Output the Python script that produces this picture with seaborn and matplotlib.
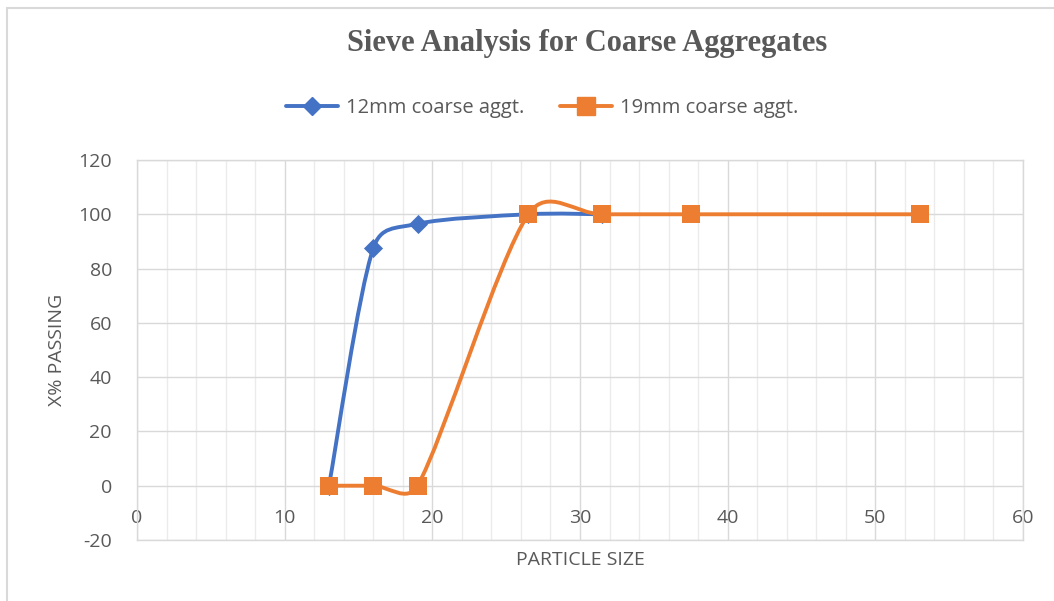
import numpy as np
import matplotlib
matplotlib.use("Agg")
import matplotlib.pyplot as plt
from matplotlib.path import Path
from matplotlib.patches import PathPatch, Rectangle
from matplotlib.lines import Line2D
import seaborn as sns

# sieve size (mm) vs percentage passing
size_12 = [13, 16, 19, 26.5, 31.5]
pass_12 = [0, 87.5, 96.5, 100, 100]
size_19 = [13, 16, 19, 26.5, 31.5, 37.5, 53]
pass_19 = [0, 0, 0, 100, 100, 100, 100]

series_names = ['12mm coarse aggt.', '19mm coarse aggt.']
series_colors = ['#4472C4', '#ED7D31']
x_ticks = [0, 10, 20, 30, 40, 50, 60]
y_ticks = [-20, 0, 20, 40, 60, 80, 100, 120]

text_col = '#595959'
grid_col = '#D9D9D9'

sns.set_theme(style='white')
plt.rcParams['font.family'] = ['Open Sans', 'DejaVu Sans']
plt.rcParams['axes.unicode_minus'] = False


def smooth_path(ax, xs, ys, k=0.47):
    # excel-like smoothed line: catmull-rom bezier in screen space,
    # handles clamped so short segments don't overshoot too much
    pts = ax.transData.transform(np.column_stack([xs, ys]))
    n = len(pts)
    verts = [pts[0]]
    codes = [Path.MOVETO]
    for i in range(n - 1):
        p0 = pts[max(i - 1, 0)]
        p1 = pts[i]
        p2 = pts[i + 1]
        p3 = pts[min(i + 2, n - 1)]
        seg = np.linalg.norm(p2 - p1)
        h1 = (p2 - p0) / 6
        h2 = (p3 - p1) / 6
        if np.linalg.norm(h1) > k * seg:
            h1 = h1 / np.linalg.norm(h1) * k * seg
        if np.linalg.norm(h2) > k * seg:
            h2 = h2 / np.linalg.norm(h2) * k * seg
        verts += [p1 + h1, p2 - h2, p2]
        codes += [Path.CURVE4] * 3
    verts = ax.transData.inverted().transform(np.array(verts))
    return Path(verts, codes)


fig = plt.figure(figsize=(10.54, 6.01), dpi=100)
ax = fig.add_axes([137 / 1054, 1 - 540 / 601, 886 / 1054, 380 / 601])
ax.set_xlim(0, 60)
ax.set_ylim(-20, 120)
ax.set_xticks(x_ticks)
ax.set_yticks(y_ticks)
ax.set_xticks(np.arange(0, 61, 2), minor=True)
ax.grid(which='major', color=grid_col, lw=1.0)
ax.grid(which='minor', axis='x', color='#EBEBEB', lw=1.0)
ax.set_axisbelow(True)
for s in ax.spines.values():
    s.set_color(grid_col)
    s.set_linewidth(1.0)
ax.tick_params(axis='both', which='both', length=0, labelsize=14, labelcolor=text_col)
ax.tick_params(axis='x', pad=-22)
ax.tick_params(axis='y', pad=18)

lw = 2.8
# 12mm series
ax.add_patch(PathPatch(smooth_path(ax, size_12, pass_12), fill=False,
                       edgecolor=series_colors[0], lw=lw, zorder=3, capstyle='round'))
sns.scatterplot(x=size_12, y=pass_12, ax=ax, marker='D', s=95, color=series_colors[0],
                linewidth=0, zorder=4, legend=False)
# 19mm series
ax.add_patch(PathPatch(smooth_path(ax, size_19, pass_19), fill=False,
                       edgecolor=series_colors[1], lw=lw, zorder=5, capstyle='round'))
sns.scatterplot(x=size_19, y=pass_19, ax=ax, marker='s', s=155, color=series_colors[1],
                linewidth=0, zorder=6, legend=False)

ax.set_xlabel('PARTICLE SIZE', fontsize=14, color=text_col)
ax.xaxis.label.set_va('center')
ax.xaxis.set_label_coords(0.5, -20 / 380)
ax.set_ylabel('X% PASSING', fontsize=14, color=text_col)
ax.yaxis.label.set_va('center')
ax.yaxis.set_label_coords(-80 / 886, 0.5)

fig.text(587 / 1054, 1 - 44 / 601, 'Sieve Analysis for Coarse Aggregates',
         ha='center', va='center', fontsize=22, fontweight='bold',
         family='Liberation Serif', color=text_col)

handles = [Line2D([], [], color=series_colors[0], lw=lw, marker='D', markersize=9.5),
           Line2D([], [], color=series_colors[1], lw=lw, marker='s', markersize=12.3)]
fig.legend(handles, series_names, loc='center', bbox_to_anchor=(542 / 1054, 1 - 108 / 601),
           ncol=2, frameon=False, fontsize=14.5, labelcolor=text_col, handlelength=2.6,
           handletextpad=0.35, columnspacing=1.8, numpoints=1)

# chart area border
fig.add_artist(Rectangle((7 / 1054, -0.1), 1.2, 1.1 - 8 / 601, transform=fig.transFigure,
                         fill=False, edgecolor=grid_col, lw=1.5))

fig.savefig('out.png', dpi=100)
